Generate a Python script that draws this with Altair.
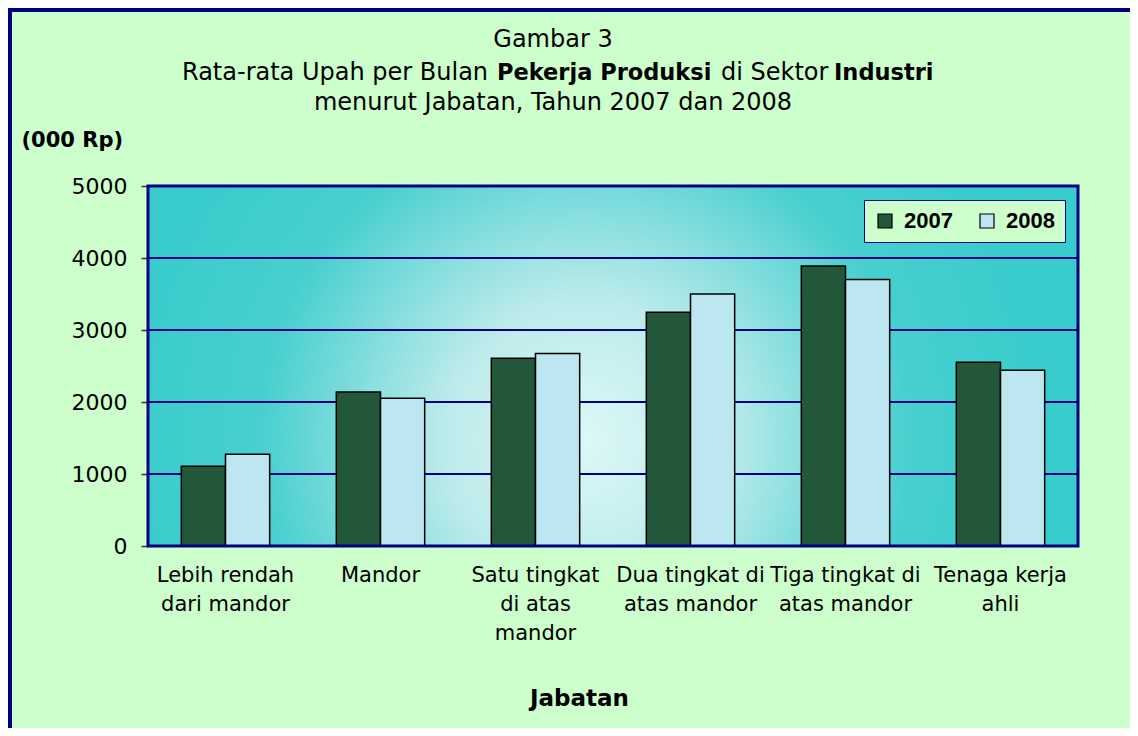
import altair as alt
import pandas as pd

# ---------------- data ----------------
categories = [
    "Lebih rendah dari mandor",
    "Mandor",
    "Satu tingkat di atas mandor",
    "Dua tingkat di atas mandor",
    "Tiga tingkat di atas mandor",
    "Tenaga kerja ahli",
]
tick_lines = [
    ["Lebih rendah", "dari mandor"],
    ["Mandor"],
    ["Satu tingkat", "di atas", "mandor"],
    ["Dua tingkat di", "atas mandor"],
    ["Tiga tingkat di", "atas mandor"],
    ["Tenaga kerja", "ahli"],
]
years = ["2007", "2008"]
values_2007 = [1107, 2139, 2607, 3246, 3889, 2551]
values_2008 = [1273, 2051, 2672, 3500, 3700, 2440]
y_ticks = [0, 1000, 2000, 3000, 4000, 5000]
grid_values = [1000, 2000, 3000, 4000]

title_line1 = "Gambar 3"
title_line2 = [  # (text, bold)
    ("Rata-rata Upah per Bulan", False),
    ("Pekerja Produksi", True),
    ("di Sektor", False),
    ("Industri", True),
]
title_line3 = "menurut Jabatan, Tahun 2007 dan 2008"
y_title = "(000 Rp)"
x_title = "Jabatan"

# ---------------- layout / style ----------------
W, H = 930, 360
FONT = "DejaVu Sans"
NAVY = "#000080"
BG = "#CCFFCC"
colors = ["#22573A", "#BCE7F1"]

rows = []
for c, a, b in zip(categories, values_2007, values_2008):
    rows.append({"Jabatan": c, "Tahun": years[0], "value": a})
    rows.append({"Jabatan": c, "Tahun": years[1], "value": b})
df = pd.DataFrame(rows)

# multi-line label expression
expr = "''"
for c, lines in reversed(list(zip(categories, tick_lines))):
    arr = "[" + ",".join("'" + l + "'" for l in lines) + "]"
    expr = f"datum.value == '{c}' ? {arr} : ({expr})"

one = pd.DataFrame({"k": [0]})

gradient = {
    "gradient": "radial",
    "x1": 0.47, "y1": 0.58, "r1": 0,
    "x2": 0.47, "y2": 0.58, "r2": 0.5,
    "stops": [
        {"offset": 0.0, "color": "#DDF8F8"},
        {"offset": 0.3, "color": "#BDEBEB"},
        {"offset": 0.7, "color": "#48CFCF"},
        {"offset": 1.0, "color": "#38CCCC"},
    ],
}

bg = alt.Chart(one).mark_rect(fill=gradient).encode(
    x=alt.value(0), x2=alt.value(W), y=alt.value(0), y2=alt.value(H)
)

yscale = alt.Scale(domain=[0, 5000], nice=False)
y_axis = alt.Axis(
    title=y_title,
    values=y_ticks,
    format="d",
    grid=False,
    domain=False,
    tickColor="#333333",
    tickSize=7,
    tickWidth=1.5,
    labelFont=FONT,
    labelFontSize=22,
    labelColor="black",
    labelPadding=14,
    titleFont=FONT,
    titleFontSize=21,
    titleFontWeight="bold",
    titleColor="black",
    titleAngle=0,
    titleX=-127,
    titleY=-40,
    titleAlign="left",
    titleBaseline="alphabetic",
)

grid = alt.Chart(pd.DataFrame({"value": grid_values})).mark_rule(
    color=NAVY, strokeWidth=2
).encode(y=alt.Y("value:Q", scale=yscale, axis=y_axis))

bars = alt.Chart(df).mark_bar(stroke="black", strokeWidth=1.5).encode(
    x=alt.X(
        "Jabatan:N",
        sort=categories,
        scale=alt.Scale(paddingInner=0.43, paddingOuter=0.215),
        axis=alt.Axis(
            title=x_title,
            labelExpr=expr,
            labelAngle=0,
            labelFont=FONT,
            labelFontSize=21,
            labelColor="black",
            labelLineHeight=29,
            labelPadding=18,
            labelBaseline="top",
            labelLimit=400,
            labelOverlap=False,
            ticks=False,
            domain=False,
            titleFont=FONT,
            titleFontSize=23,
            titleFontWeight="bold",
            titleColor="black",
            titleX=431,
            titleY=159,
            titleAlign="center",
            titleBaseline="alphabetic",
        ),
    ),
    xOffset=alt.XOffset("Tahun:N", sort=years, scale=alt.Scale(paddingInner=0, paddingOuter=0)),
    y=alt.Y("value:Q", scale=yscale, axis=y_axis),
    fill=alt.Fill(
        "Tahun:N",
        sort=years,
        scale=alt.Scale(domain=years, range=colors),
        legend=alt.Legend(
            title=None,
            orient="none",
            legendX=716,
            legendY=14,
            direction="horizontal",
            fillColor=BG,
            strokeColor=NAVY,
            padding=10,
            symbolType="square",
            symbolSize=196,
            symbolStrokeColor="black",
            symbolStrokeWidth=1.2,
            symbolOpacity=1,
            labelFont="Liberation Sans",
            labelFontSize=22,
            labelFontWeight="bold",
            labelColor="black",
            labelOffset=8,
            columnPadding=23,
        ),
    ),
)

border = alt.Chart(one).mark_rect(
    fillOpacity=0, stroke=NAVY, strokeWidth=3
).encode(x=alt.value(0), x2=alt.value(W), y=alt.value(0), y2=alt.value(H))


def text_layer(txt, px, py, size=24, bold=False, align="left"):
    return alt.Chart(pd.DataFrame({"t": [txt]})).mark_text(
        align=align,
        baseline="alphabetic",
        font=FONT,
        fontSize=size,
        fontWeight="bold" if bold else "normal",
        color="black",
    ).encode(x=alt.value(px), y=alt.value(py), text="t:N")


line2_x = [34, 349, 573, 686]
texts = [text_layer(title_line1, 405, -139, align="center")]
for (t, b), px in zip(title_line2, line2_x):
    texts.append(text_layer(t, px, -106, bold=b, size=22.5 if b else 24))
texts.append(text_layer(title_line3, 405, -76, align="center"))

frame_left = alt.Chart(one).mark_rule(color=NAVY, strokeWidth=4).encode(
    x=alt.value(-138), y=alt.value(-178), y2=alt.value(H + 182)
)
frame_top = alt.Chart(one).mark_rule(color=NAVY, strokeWidth=4).encode(
    x=alt.value(-140), x2=alt.value(W + 52), y=alt.value(-176)
)

chart = alt.layer(bg, grid, bars, border, *texts, frame_left, frame_top).properties(
    width=W,
    height=H,
    background=BG,
    padding={"left": 140, "top": 178, "right": 52, "bottom": 182},
    autosize=alt.AutoSizeParams(type="none"),
).configure_view(strokeWidth=0)

chart.save("out.html", embed_options={"renderer": "svg", "actions": False})
